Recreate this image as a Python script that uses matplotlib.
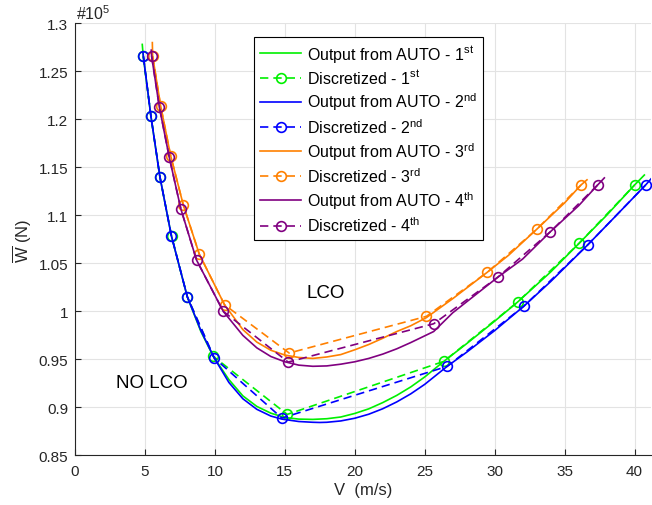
import matplotlib.pyplot as plt

plt.rcParams['font.family'] = ['Liberation Sans', 'DejaVu Sans']
plt.rcParams['mathtext.fontset'] = 'custom'
plt.rcParams['mathtext.rm'] = 'Liberation Sans'
plt.rcParams['mathtext.it'] = 'Liberation Sans'

# Discretized points (V in m/s, W in 1e5 N)
v_disc_1 = [4.88, 5.43, 6.07, 6.90, 8.03, 9.89, 15.17, 26.36, 31.64, 36.03, 40.00]
w_disc_1 = [1.2656, 1.2031, 1.1402, 1.0788, 1.0152, 0.9531, 0.8927, 0.9479, 1.0097, 1.0708, 1.1316]
v_disc_2 = [4.89, 5.43, 6.07, 6.89, 8.03, 9.96, 14.79, 26.60, 32.07, 36.64, 40.79]
w_disc_2 = [1.2656, 1.2031, 1.1402, 1.0788, 1.0152, 0.9514, 0.8889, 0.9427, 1.0052, 1.0691, 1.1316]
v_disc_3 = [5.55, 6.12, 6.84, 7.74, 8.89, 10.69, 15.31, 25.12, 29.46, 33.00, 36.17]
w_disc_3 = [1.2659, 1.2142, 1.1620, 1.1110, 1.0594, 1.0069, 0.9566, 0.9948, 1.0406, 1.0854, 1.1316]
v_disc_4 = [5.48, 6.03, 6.74, 7.57, 8.69, 10.60, 15.24, 25.64, 30.21, 33.98, 37.36]
w_disc_4 = [1.2656, 1.2128, 1.1604, 1.1066, 1.0534, 1.0000, 0.9472, 0.9871, 1.0354, 1.0829, 1.1316]

# Output from AUTO (continuous branches)
v_auto_1 = [4.81, 4.88, 5.43, 6.07, 6.90, 8.03, 9.00, 9.89, 11.0, 12.0, 13.0, 14.0, 15.0, 16.0, 17.0,
            18.0, 19.0, 20.0, 21.0, 22.0, 23.0, 24.0, 25.0, 26.36, 28.0, 30.0, 31.64, 34.0, 36.03, 38.0, 40.0, 40.7]
w_auto_1 = [1.278, 1.2656, 1.203, 1.140, 1.078, 1.015, 0.979, 0.953, 0.929, 0.912, 0.901, 0.894, 0.8895, 0.8878, 0.8875,
            0.8882, 0.8900, 0.8937, 0.8985, 0.905, 0.9125, 0.9213, 0.9317, 0.9479, 0.9664, 0.9898, 1.0097, 1.041, 1.0708, 1.100, 1.1316, 1.142]
v_auto_2 = [4.86, 4.89, 5.43, 6.07, 6.89, 8.03, 9.00, 9.96, 11.0, 12.0, 13.0, 14.0, 14.79, 16.0, 17.0, 17.5,
            18.0, 19.0, 20.0, 21.0, 22.0, 23.0, 24.0, 25.0, 26.6, 28.0, 30.0, 32.07, 34.0, 36.64, 38.5, 40.79, 41.3]
w_auto_2 = [1.270, 1.2656, 1.2031, 1.1402, 1.0788, 1.0152, 0.980, 0.9514, 0.926, 0.909, 0.898, 0.891, 0.8878, 0.8853, 0.8845, 0.8843,
            0.8845, 0.8859, 0.8887, 0.8929, 0.8986, 0.9057, 0.9141, 0.9240, 0.9427, 0.9575, 0.9800, 1.0052, 1.031, 1.0691, 1.097, 1.1316, 1.140]
v_auto_3 = [5.53, 5.55, 6.12, 6.84, 7.74, 8.89, 10.69, 12.0, 13.0, 14.0, 15.0, 16.0, 17.0, 18.0, 19.0, 20.0,
            21.0, 22.0, 23.0, 24.0, 25.12, 27.0, 29.46, 31.0, 33.0, 35.0, 36.17, 36.6]
w_auto_3 = [1.2799, 1.2659, 1.2142, 1.1620, 1.1110, 1.0594, 1.0069, 0.981, 0.968, 0.9595, 0.9545, 0.952, 0.951, 0.9525, 0.955, 0.960,
            0.9655, 0.972, 0.979, 0.985, 0.9935, 1.0132, 1.0406, 1.0585, 1.0854, 1.113, 1.1316, 1.137]
v_auto_4 = [5.45, 5.48, 6.03, 6.74, 7.57, 8.69, 10.60, 12.0, 13.0, 14.0, 15.0, 16.0, 17.0, 18.0, 19.0, 20.0,
            21.0, 22.0, 23.0, 24.0, 25.64, 27.0, 30.21, 32.0, 33.98, 36.0, 37.36, 37.84]
w_auto_4 = [1.272, 1.2656, 1.2128, 1.1604, 1.1066, 1.0534, 1.0000, 0.975, 0.962, 0.953, 0.9475, 0.944, 0.9428, 0.9432, 0.9450, 0.9475,
            0.9510, 0.9555, 0.9610, 0.9675, 0.9790, 0.9985, 1.0354, 1.0545, 1.0829, 1.110, 1.1316, 1.139]

orders = ['1$^{\\rm st}$', '2$^{\\rm nd}$', '3$^{\\rm rd}$', '4$^{\\rm th}$']
colors = ['#00f000', '#0000ff', '#ff8000', '#800080']
auto_v = [v_auto_1, v_auto_2, v_auto_3, v_auto_4]
auto_w = [w_auto_1, w_auto_2, w_auto_3, w_auto_4]
disc_v = [v_disc_1, v_disc_2, v_disc_3, v_disc_4]
disc_w = [w_disc_1, w_disc_2, w_disc_3, w_disc_4]

fig = plt.figure(figsize=(6.52, 5.06), dpi=100)
ax = fig.add_axes([0.115, 0.098, 0.884, 0.854])

for i in range(4):
    ax.plot(auto_v[i], auto_w[i], '-', color=colors[i], lw=1.2,
            label='Output from AUTO - ' + orders[i])
    ax.plot(disc_v[i], disc_w[i], '--', color=colors[i], lw=1.2, dashes=(5, 3),
            marker='o', markersize=7, markerfacecolor='none', markeredgewidth=1.2,
            label='Discretized - ' + orders[i])

ax.set_xlim(0, 41.2)
ax.set_ylim(0.85, 1.3)
ax.set_xticks(range(0, 41, 5))
ax.set_yticks([0.85, 0.9, 0.95, 1.0, 1.05, 1.1, 1.15, 1.2, 1.25, 1.3])
ax.set_yticklabels(['0.85', '0.9', '0.95', '1', '1.05', '1.1', '1.15', '1.2', '1.25', '1.3'])
ax.grid(True, color='#e3e3e3', lw=0.8)
ax.set_axisbelow(True)
ax.spines['top'].set_visible(False)
ax.spines['right'].set_visible(False)
ax.tick_params(direction='in', length=4, labelsize=11, colors='#262626')
ax.tick_params(axis='x', pad=6)
ax.tick_params(axis='y', pad=5)
for s in ['left', 'bottom']:
    ax.spines[s].set_color('#262626')

ax.set_xlabel('V  (m/s)', fontsize=12, color='#262626', labelpad=3)
ax.set_ylabel(r'$\overline{\rm W}$ (N)', fontsize=12, color='#262626', labelpad=3)
fig.text(0.1166, 0.960, '#10$^5$', fontsize=11.5, color='#262626', ha='left', va='baseline')

ax.text(17.9, 1.02, 'LCO', fontsize=13.5, ha='center', va='center')
ax.text(5.5, 0.926, 'NO LCO', fontsize=13.5, ha='center', va='center')

leg = ax.legend(loc='upper left', bbox_to_anchor=(0.311, 0.968), fontsize=11.5,
                frameon=True, fancybox=False, edgecolor='black', framealpha=1,
                handlelength=2.6, labelspacing=0.28, borderpad=0.35, handletextpad=0.35,
                borderaxespad=0)
leg.get_frame().set_linewidth(0.8)

fig.savefig('out.png', dpi=100)
